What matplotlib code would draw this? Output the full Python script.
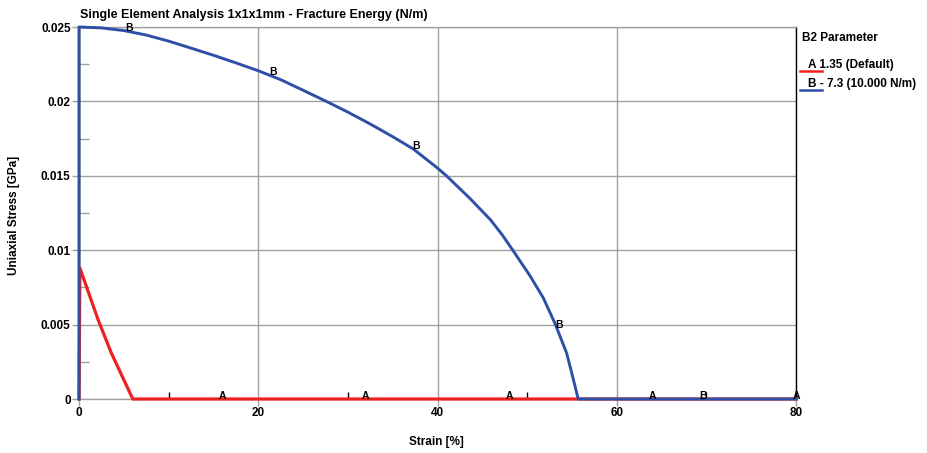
import numpy as np
import matplotlib
matplotlib.use("Agg")
import matplotlib.pyplot as plt
from matplotlib.lines import Line2D
from matplotlib.ticker import MultipleLocator

plt.rcParams['font.family'] = ['Liberation Sans', 'DejaVu Sans']
plt.rcParams['font.weight'] = 'bold'

# ---------------- data ----------------
title = "Single Element Analysis 1x1x1mm - Fracture Energy (N/m)"
x_label = "Strain [%]"
y_label = "Uniaxial Stress [GPa]"
legend_title = "B2 Parameter"
series_names = ["A", "B"]
series_texts = ["1.35 (Default)", "- 7.3 (10.000 N/m)"]

# Curve A (red)
a_strain = [0.0, 0.1, 2.15, 3.6, 6.0, 80.0]
a_stress = [0.0, 0.0088, 0.0053, 0.0031, 0.0, 0.0]

# Curve B (blue)
b_strain = [0.0, 0.0, 2.5, 5.0, 7.5, 10.0, 12.5, 15.0, 17.5, 20.0, 22.5, 25.0,
            27.6, 30.0, 32.5, 35.0, 37.3, 40.0, 41.0, 43.6, 45.9, 47.2, 48.4,
            50.3, 51.8, 53.1, 54.4, 55.0, 55.7, 80.0]
b_stress = [0.0, 0.02500, 0.02494, 0.02476, 0.02446, 0.02405, 0.02358, 0.02310,
            0.02259, 0.02206, 0.02146, 0.02075, 0.02000, 0.01928, 0.01848,
            0.01763, 0.01680, 0.01552, 0.01500, 0.01349, 0.01205, 0.01105,
            0.01000, 0.00830, 0.00680, 0.00509, 0.00310, 0.00170, 0.0, 0.0]

a_label_x = [16, 32, 48, 64, 80]
b_label_x = [5.3, 21.3, 37.3, 53.3, 69.3]

x_ticks = [0, 20, 40, 60, 80]
y_ticks = [0, 0.005, 0.01, 0.015, 0.02, 0.025]
y_tick_labels = ["0", "0.005", "0.01", "0.015", "0.02", "0.025"]

red = "#ee2020"
blue = "#2d4fa6"
grid_c = "#a0a0a0"

# ---------------- figure ----------------
W, H = 928, 453
fig = plt.figure(figsize=(W / 100, H / 100), dpi=100)
L, R, T, B = 79, 796, 27, 399
ax = fig.add_axes([L / W, 1 - B / H, (R - L) / W, (B - T) / H])

ax.set_xlim(0, 80)
ax.set_ylim(0, 0.025)

ax.plot(a_strain, a_stress, color=red, lw=2.3, zorder=3, clip_on=False)
ax.plot(b_strain, b_stress, color=blue, lw=2.1, zorder=4, clip_on=False)

for xv in a_label_x:
    ax.text(xv, np.interp(xv, a_strain, a_stress) + 0.0002, "A", ha='center', va='center',
            fontsize=7.5, fontweight='bold', zorder=6, clip_on=False)
for xv in b_label_x:
    yv = np.interp(xv, b_strain[1:], b_stress[1:])
    ax.text(xv + 0.3, yv + 0.0002, "B", ha='center', va='center',
            fontsize=7.5, fontweight='bold', zorder=6, clip_on=False)

ax.set_xticks(x_ticks)
ax.set_xticklabels([str(v) for v in x_ticks])
ax.set_yticks(y_ticks)
ax.set_yticklabels(y_tick_labels)
ax.xaxis.set_minor_locator(MultipleLocator(10))
ax.yaxis.set_minor_locator(MultipleLocator(0.0025))

ax.grid(True, which='major', color=grid_c, lw=1.0, zorder=1)
ax.tick_params(which='major', direction='out', length=5, width=1.0, color=grid_c,
               labelsize=8.5, pad=1)
ax.tick_params(axis='x', which='minor', direction='in', length=5, width=1.0, color='black')
ax.tick_params(axis='y', which='minor', direction='in', length=7, width=1.0, color=grid_c)
for lab in ax.get_xticklabels() + ax.get_yticklabels():
    lab.set_fontweight('bold')

for s in ['top', 'bottom']:
    ax.spines[s].set_color(grid_c)
    ax.spines[s].set_linewidth(1.0)
for s in ['left', 'right']:
    ax.spines[s].set_color('black')
    ax.spines[s].set_linewidth(1.0)
ax.set_axisbelow(True)

fig.text(80 / W, 1 - 15 / H, title, ha='left', va='center', fontsize=9, fontweight='bold')
fig.text(14 / W, 1 - 215 / H, y_label, ha='center', va='center', rotation=90,
         fontsize=8.5, fontweight='bold')
fig.text(436 / W, 1 - 442 / H, x_label, ha='center', va='center', fontsize=8.5, fontweight='bold')

# legend
fig.text(802 / W, 1 - 38 / H, legend_title, ha='left', va='center', fontsize=8.5, fontweight='bold')
leg_y = [65, 84]
for name, txt, c, yy in zip(series_names, series_texts, [red, blue], leg_y):
    fig.text(808 / W, 1 - yy / H, name + " " + txt, ha='left', va='center',
             fontsize=8.5, fontweight='bold')
    fig.add_artist(Line2D([800 / W, 822 / W], [1 - (yy + 6) / H] * 2, color=c, lw=1.8,
                          transform=fig.transFigure))

fig.savefig("out.png", dpi=100)
